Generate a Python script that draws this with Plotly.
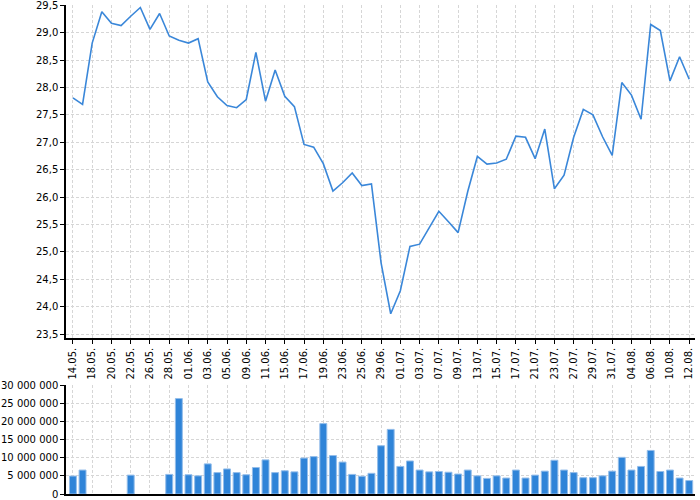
import plotly.graph_objects as go
from plotly.subplots import make_subplots

# trading days 14.05. - 12.08.
dates = ["14.05.", "15.05.", "18.05.", "19.05.", "20.05.", "21.05.", "22.05.", "25.05.",
         "26.05.", "27.05.", "28.05.", "29.05.", "01.06.", "02.06.", "03.06.", "04.06.",
         "05.06.", "08.06.", "09.06.", "10.06.", "11.06.", "12.06.", "15.06.", "16.06.",
         "17.06.", "18.06.", "19.06.", "22.06.", "23.06.", "24.06.", "25.06.", "26.06.",
         "29.06.", "30.06.", "01.07.", "02.07.", "03.07.", "06.07.", "07.07.", "08.07.",
         "09.07.", "10.07.", "13.07.", "14.07.", "15.07.", "16.07.", "17.07.", "20.07.",
         "21.07.", "22.07.", "23.07.", "24.07.", "27.07.", "28.07.", "29.07.", "30.07.",
         "31.07.", "03.08.", "04.08.", "05.08.", "06.08.", "07.08.", "10.08.", "11.08.",
         "12.08."]

price = [27.81, 27.69, 28.81, 29.38, 29.17, 29.13, 29.30, 29.46, 29.06, 29.35,
         28.94, 28.86, 28.81, 28.89, 28.10, 27.83, 27.67, 27.63, 27.78, 28.64,
         27.75, 28.32, 27.84, 27.65, 26.96, 26.91, 26.61, 26.11, 26.26, 26.44,
         26.21, 26.24, 24.80, 23.87, 24.29, 25.10, 25.14, 25.45, 25.74, 25.55,
         25.35, 26.10, 26.74, 26.60, 26.62, 26.69, 27.11, 27.09, 26.70, 27.24,
         26.15, 26.40, 27.09, 27.60, 27.50, 27.10, 26.76, 28.09, 27.86, 27.42,
         29.15, 29.04, 28.12, 28.56, 28.15]

# volume in millions, 0 = no trading reported
volume = [4.95, 6.6, 0, 0, 0, 0, 5.2, 0, 0, 0,
          5.4, 26.3, 5.3, 5.0, 8.3, 5.9, 6.9, 5.9, 5.3, 7.3,
          9.4, 5.9, 6.4, 6.1, 9.9, 10.3, 19.4, 10.6, 8.8, 5.4,
          4.9, 5.7, 13.3, 17.8, 7.6, 9.1, 6.6, 6.1, 6.2, 6.0,
          5.5, 6.6, 5.0, 4.3, 5.0, 4.4, 6.6, 4.4, 5.2, 6.3,
          9.3, 6.6, 5.9, 4.5, 4.5, 5.0, 6.3, 10.1, 6.6, 7.6,
          12.0, 6.2, 6.6, 4.4, 3.7]
volume = [v * 1e6 if v > 0 else None for v in volume]

tick_dates = dates[::2]

fig = make_subplots(rows=2, cols=1)
fig.add_trace(go.Scatter(x=dates, y=price, mode="lines",
                         line=dict(color="#3a87d9", width=1.6)), row=1, col=1)
fig.add_trace(go.Bar(x=dates, y=volume, width=0.72,
                     marker=dict(color="#2f84d8", line=dict(color="#93bdea", width=1))),
              row=2, col=1)

grid = dict(showgrid=True, gridcolor="#d6d6d6", griddash="3px,2px", gridwidth=1,
            showline=True, linecolor="black", linewidth=1.5, zeroline=False,
            ticks="outside", ticklen=4, tickcolor="black", automargin=False,
            ticklabeloverflow="allow")

fig.update_xaxes(type="category", range=[-0.72, 64.6], tickvals=tick_dates,
                 tickangle=-90, **grid)
fig.update_xaxes(showticklabels=False, ticks="", row=2, col=1)
fig.update_xaxes(domain=[0, 1])

fig.update_yaxes(range=[23.427, 29.505], dtick=0.5, tick0=23.5, tickformat=".1f",
                 domain=[0.319, 1.0], row=1, col=1, **grid)
fig.update_yaxes(range=[0, 30.05e6], dtick=5e6, tickformat=",d",
                 domain=[0, 0.223], row=2, col=1, **grid)

fig.update_layout(
    width=700, height=500,
    margin=dict(l=66, r=5, t=5, b=6),
    paper_bgcolor="white", plot_bgcolor="white",
    separators=", ",
    showlegend=False,
    bargap=0.25,
    font=dict(family="DejaVu Sans", size=10, color="black"),
)

# page body has a default margin; drop it so the 700x500 figure fits the window
fig.write_html("out.html", config={"displayModeBar": False},
               post_script="document.body.style.margin='0';")
